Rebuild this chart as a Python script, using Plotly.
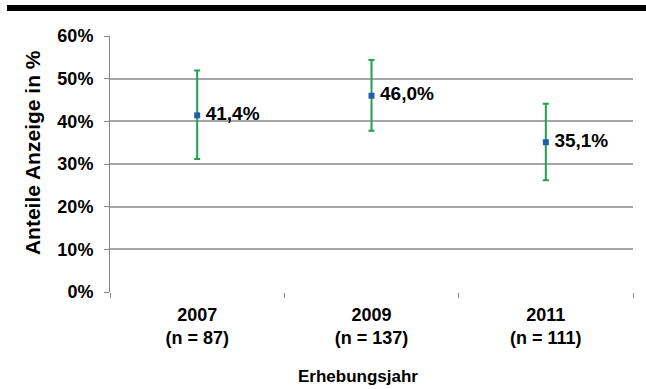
import plotly.graph_objects as go

# Survey years with sample sizes, share of reports and 95% CI half-widths
years = ["2007", "2009", "2011"]
sample_sizes = [87, 137, 111]
shares = [41.4, 46.0, 35.1]
ci_plus = [10.5, 8.4, 9.0]
ci_minus = [10.2, 8.2, 8.9]

y_ticks = [0, 10, 20, 30, 40, 50, 60]
y_tick_text = [f"{v}%" for v in y_ticks]

categories = [f"{y}<br>(n = {n})" for y, n in zip(years, sample_sizes)]
labels = [f"{v:.1f}%".replace(".", ",") for v in shares]

FONT = "Liberation Sans, Arial, sans-serif"

fig = go.Figure()
fig.add_trace(go.Scatter(
    x=categories,
    y=shares,
    mode="markers+text",
    marker=dict(symbol="square", size=6, color="#1F5FA8"),
    error_y=dict(type="data", symmetric=False, array=ci_plus, arrayminus=ci_minus,
                 color="#21A04F", thickness=2, width=3),
    text=labels,
    texttemplate="<b>\u2009%{text}</b>",
    textposition="middle right",
    textfont=dict(family=FONT, size=19, color="#000000"),
    cliponaxis=False,
    showlegend=False,
))

fig.update_layout(
    width=646, height=389,
    margin=dict(l=110, r=13, t=36, b=97),
    paper_bgcolor="white", plot_bgcolor="white",
    font=dict(family=FONT, color="#000000"),
    xaxis=dict(
        type="category",
        range=[-0.5, 2.5],
        tickvals=categories,
        ticktext=[f"<b>{c}</b>" for c in categories],
        showgrid=False,
        showline=False,
        ticks="outside", tickson="boundaries", ticklen=5, tickcolor="#868686",
        ticklabelstandoff=10,
        tickfont=dict(family=FONT, size=18, color="#000000"),
        zeroline=False,
    ),
    yaxis=dict(
        range=[0, 60],
        tickvals=y_ticks,
        ticktext=[f"<b>{t}</b>" for t in y_tick_text],
        showgrid=True, gridcolor="#A6A6A6", gridwidth=1.5,
        showline=True, linecolor="#868686", linewidth=1,
        ticks="outside", ticklen=5, tickcolor="#868686",
        ticklabelstandoff=7,
        tickfont=dict(family=FONT, size=18, color="#000000"),
        zeroline=False,
    ),
    annotations=[
        dict(text="<b>Anteile Anzeige in %</b>", textangle=-90,
             xref="paper", yref="paper", x=-0.147, y=0.543,
             xanchor="center", yanchor="middle", showarrow=False,
             font=dict(family=FONT, size=21, color="#000000")),
        dict(text="<b>Erhebungsjahr</b>",
             xref="paper", yref="paper", x=0.474, y=-0.332,
             xanchor="center", yanchor="middle", showarrow=False,
             font=dict(family=FONT, size=17, color="#000000")),
    ],
    shapes=[
        dict(type="rect", xref="paper", yref="paper",
             x0=(7 - 110) / 523, x1=(646 - 110) / 523,
             y0=1 + 25 / 256, y1=1 + 31 / 256,
             fillcolor="#000000", line=dict(width=0), layer="above"),
    ],
)

fig.write_html("out.html")
